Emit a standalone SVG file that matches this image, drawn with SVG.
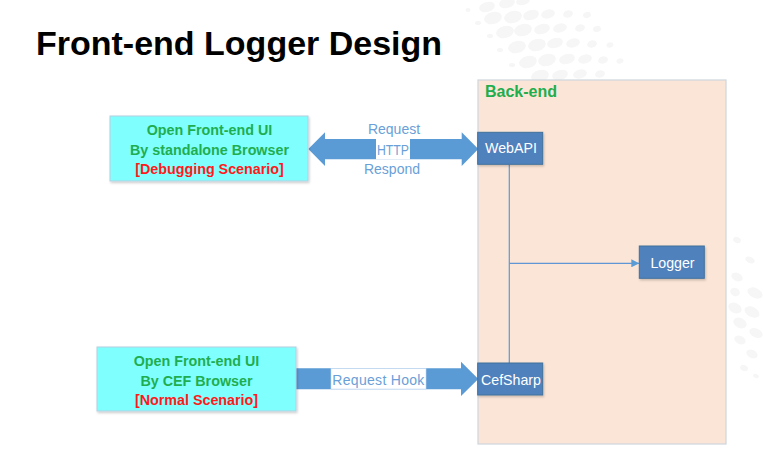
<svg xmlns="http://www.w3.org/2000/svg" width="763" height="466" viewBox="0 0 763 466">
<defs>
<style>
.bg{fill:#f6f6f6}
.title{font-family:"Liberation Sans",Arial,sans-serif;font-weight:bold;font-size:34px;fill:#000}
.fe{fill:#80ffff;stroke:#b4cfe0;stroke-width:1}
.fet{font-family:"Liberation Sans",Arial,sans-serif;font-weight:bold;font-size:14.3px;text-anchor:middle}
.g{fill:#1fae4f}
.r{fill:#ff1a1a}
.panel{fill:#fbe5d6;stroke:#cdd6de;stroke-width:1.2}
.node{fill:#4f81bd;stroke:#41719c;stroke-width:1}
.nt{font-family:"Liberation Sans",Arial,sans-serif;font-size:14.2px;fill:#fff;text-anchor:middle}
.arrow{fill:#5b9bd5}
.lbl{font-family:"Liberation Sans",Arial,sans-serif;font-size:14px;fill:#6a9fd8;text-anchor:middle}
.wire{fill:none;stroke:#5f97d6;stroke-width:1.2}
</style>
<filter id="sh" x="-10%" y="-10%" width="130%" height="140%">
<feDropShadow dx="1" dy="1.5" stdDeviation="1" flood-color="#000" flood-opacity="0.2"/>
</filter>
<marker id="ah" viewBox="0 0 10 10" refX="10" refY="5" markerWidth="8" markerHeight="8" markerUnits="userSpaceOnUse" orient="auto">
<path d="M0,0 L10,5 L0,10 z" fill="#5b9bd5"/>
</marker>
</defs>
<rect x="0" y="0" width="763" height="466" fill="#ffffff"/>
<g id="background-dots" class="bg">
<ellipse cx="487" cy="7" rx="8" ry="5" transform="rotate(-15 487 7)"/>
<ellipse cx="507" cy="3" rx="8" ry="5" transform="rotate(-15 507 3)"/>
<ellipse cx="523" cy="1" rx="7" ry="4" transform="rotate(-15 523 1)"/>
<ellipse cx="493" cy="18" rx="9" ry="6" transform="rotate(-15 493 18)"/>
<ellipse cx="513" cy="17" rx="9" ry="6" transform="rotate(-15 513 17)"/>
<ellipse cx="531" cy="15" rx="8" ry="5" transform="rotate(-15 531 15)"/>
<ellipse cx="548" cy="14" rx="7" ry="4.5" transform="rotate(-15 548 14)"/>
<ellipse cx="568" cy="14" rx="5" ry="3.5" transform="rotate(-15 568 14)"/>
<ellipse cx="587" cy="15" rx="4" ry="3" transform="rotate(-15 587 15)"/>
<ellipse cx="505" cy="32" rx="9" ry="6" transform="rotate(-15 505 32)"/>
<ellipse cx="523" cy="30" rx="9" ry="6" transform="rotate(-15 523 30)"/>
<ellipse cx="542" cy="29" rx="8" ry="5" transform="rotate(-15 542 29)"/>
<ellipse cx="560" cy="28" rx="7" ry="4.5" transform="rotate(-15 560 28)"/>
<ellipse cx="580" cy="28" rx="5" ry="3.5" transform="rotate(-15 580 28)"/>
<ellipse cx="597" cy="29" rx="4" ry="3" transform="rotate(-15 597 29)"/>
<ellipse cx="517" cy="47" rx="9" ry="6" transform="rotate(-15 517 47)"/>
<ellipse cx="537" cy="45" rx="9" ry="6" transform="rotate(-15 537 45)"/>
<ellipse cx="555" cy="43" rx="8" ry="5" transform="rotate(-15 555 43)"/>
<ellipse cx="573" cy="43" rx="7" ry="4.5" transform="rotate(-15 573 43)"/>
<ellipse cx="592" cy="44" rx="5" ry="3.5" transform="rotate(-15 592 44)"/>
<ellipse cx="610" cy="45" rx="3.5" ry="2.5" transform="rotate(-15 610 45)"/>
<ellipse cx="528" cy="62" rx="9" ry="6" transform="rotate(-15 528 62)"/>
<ellipse cx="547" cy="60" rx="9" ry="6" transform="rotate(-15 547 60)"/>
<ellipse cx="567" cy="59" rx="8" ry="5" transform="rotate(-15 567 59)"/>
<ellipse cx="585" cy="59" rx="7" ry="4.5" transform="rotate(-15 585 59)"/>
<ellipse cx="603" cy="60" rx="5" ry="3.5" transform="rotate(-15 603 60)"/>
<ellipse cx="620" cy="61" rx="3.5" ry="2.5" transform="rotate(-15 620 61)"/>
<ellipse cx="540" cy="76" rx="9" ry="6" transform="rotate(-15 540 76)"/>
<ellipse cx="560" cy="75" rx="8" ry="5" transform="rotate(-15 560 75)"/>
<ellipse cx="580" cy="74" rx="7" ry="4.5" transform="rotate(-15 580 74)"/>
<ellipse cx="600" cy="74" rx="5" ry="3.5" transform="rotate(-15 600 74)"/>
<ellipse cx="468" cy="10" rx="2.5" ry="2"/>
<ellipse cx="478" cy="23" rx="3" ry="2"/>
<ellipse cx="490" cy="36" rx="3" ry="2"/>
<ellipse cx="500" cy="50" rx="3" ry="2"/>
<ellipse cx="512" cy="65" rx="3" ry="2"/>
<ellipse cx="737" cy="240" rx="4" ry="3" transform="rotate(25 737 240)"/>
<ellipse cx="750" cy="260" rx="5" ry="3" transform="rotate(25 750 260)"/>
<ellipse cx="737" cy="277" rx="6" ry="4" transform="rotate(25 737 277)"/>
<ellipse cx="755" cy="293" rx="8" ry="5" transform="rotate(25 755 293)"/>
<ellipse cx="735" cy="292" rx="5" ry="4" transform="rotate(25 735 292)"/>
<ellipse cx="735" cy="308" rx="7" ry="5" transform="rotate(25 735 308)"/>
<ellipse cx="752" cy="312" rx="8" ry="5" transform="rotate(25 752 312)"/>
<ellipse cx="740" cy="323" rx="7" ry="5" transform="rotate(25 740 323)"/>
<ellipse cx="756" cy="333" rx="7" ry="4.5" transform="rotate(25 756 333)"/>
<ellipse cx="740" cy="340" rx="6" ry="4" transform="rotate(25 740 340)"/>
<ellipse cx="752" cy="354" rx="6" ry="4" transform="rotate(25 752 354)"/>
<ellipse cx="744" cy="368" rx="4" ry="3" transform="rotate(25 744 368)"/>
<ellipse cx="756" cy="376" rx="3" ry="2" transform="rotate(25 756 376)"/>
</g>
<text class="title" x="36" y="55">Front-end Logger Design</text>
<g id="backend">
<rect class="panel" x="478" y="80" width="248" height="364"/>
<text x="485" y="97" style="font-family:'Liberation Sans',Arial,sans-serif;font-weight:bold;font-size:16px;fill:#1fae4f">Back-end</text>
</g>
<g id="connectors">
<path class="arrow" d="M308.3,149 L325,132.3 L325,139 L461.7,139 L461.7,132.3 L478.3,149 L461.7,166 L461.7,159.3 L325,159.3 L325,166 Z"/>
<rect x="376" y="139" width="34" height="20.3" fill="#ffffff"/>
<text class="lbl" x="394" y="134">Request</text>
<text class="lbl" x="393" y="154.5" textLength="32" lengthAdjust="spacingAndGlyphs">HTTP</text>
<text class="lbl" x="392" y="174">Respond</text>
<path class="arrow" d="M296,368.3 L461,368.3 L461,361.7 L478.3,379 L461,396 L461,389.3 L296,389.3 Z"/>
<rect x="331" y="368.5" width="95" height="20.5" fill="#ffffff" stroke="#c6daf0" stroke-width="0.6"/>
<text class="lbl" x="378.5" y="385" letter-spacing="0.3">Request Hook</text>
<path class="wire" d="M509.3,164.5 L509.3,363"/>
<path class="wire" d="M509.3,263.3 L639.3,263.3" marker-end="url(#ah)"/>
</g>
<g id="fe-standalone">
<rect class="fe" x="110" y="116" width="198" height="65" filter="url(#sh)"/>
<text class="fet g" x="209.5" y="135">Open Front-end UI</text>
<text class="fet g" x="209.5" y="155">By standalone Browser</text>
<text class="fet r" x="209.5" y="174">[Debugging Scenario]</text>
</g>
<g id="fe-cef">
<rect class="fe" x="97" y="347" width="199" height="64" filter="url(#sh)"/>
<text class="fet g" x="196.5" y="366">Open Front-end UI</text>
<text class="fet g" x="196.5" y="386">By CEF Browser</text>
<text class="fet r" x="196.5" y="405">[Normal Scenario]</text>
</g>
<g id="webapi">
<rect class="node" x="477.7" y="132.3" width="65" height="32" filter="url(#sh)"/>
<text class="nt" x="511" y="153">WebAPI</text>
</g>
<g id="cefsharp">
<rect class="node" x="477.7" y="363" width="65" height="32" filter="url(#sh)"/>
<text class="nt" x="511" y="385">CefSharp</text>
</g>
<g id="logger">
<rect class="node" x="639.3" y="246" width="65" height="32.3" filter="url(#sh)"/>
<text class="nt" x="672.5" y="268">Logger</text>
</g>
</svg>
